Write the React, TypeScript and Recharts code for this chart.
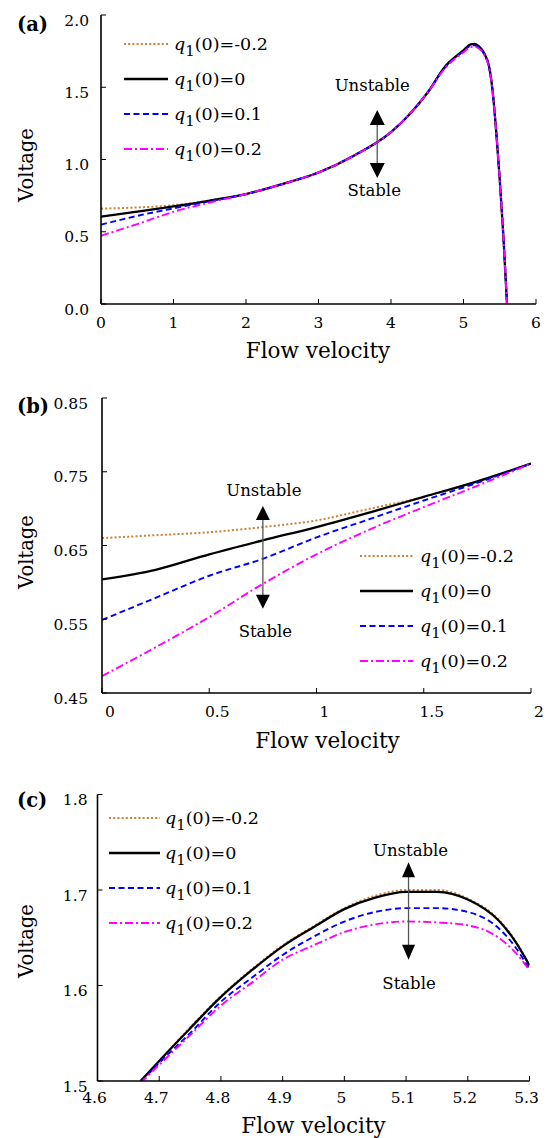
import React from "react";
import { LineChart, Line, XAxis, YAxis, Legend, ReferenceLine } from "recharts";

const FONT = "'DejaVu Serif', serif";

// legend / series setup, order = legend order
const seriesKeys = ["m02", "q0", "q01", "q02"];
const seriesLabels = ["-0.2", "0", "0.1", "0.2"];
const seriesColors = ["#CC8033", "#000000", "#0000FF", "#FF00FF"];
const seriesDash = ["2 2.2", "", "6 3.5", "8 3 2 3"];
const seriesWidth = [2, 2.3, 1.9, 1.9];

// (a) full range
const aVelocity = [0, 0.5, 1, 1.5, 2, 2.5, 3, 3.5, 4, 4.25, 4.5, 4.75, 5, 5.1, 5.15, 5.2, 5.3, 5.35, 5.4, 5.45, 5.5, 5.55, 5.6];
const aQm02 = [0.66, 0.668, 0.684, 0.716, 0.761, 0.83, 0.91, 1.03, 1.19, 1.31, 1.46, 1.645, 1.756, 1.798, 1.801, 1.789, 1.72, 1.65, 1.48, 1.2, 0.86, 0.47, 0];
const aQ0 = [0.604, 0.639, 0.675, 0.716, 0.761, 0.83, 0.91, 1.03, 1.19, 1.31, 1.46, 1.645, 1.755, 1.797, 1.8, 1.788, 1.72, 1.65, 1.48, 1.2, 0.86, 0.47, 0];
const aQ01 = [0.549, 0.61, 0.662, 0.711, 0.761, 0.83, 0.91, 1.03, 1.19, 1.31, 1.46, 1.64, 1.75, 1.787, 1.79, 1.78, 1.715, 1.645, 1.48, 1.2, 0.86, 0.47, 0];
const aQ02 = [0.473, 0.553, 0.638, 0.702, 0.761, 0.83, 0.91, 1.03, 1.19, 1.31, 1.46, 1.635, 1.742, 1.778, 1.78, 1.772, 1.71, 1.64, 1.48, 1.2, 0.86, 0.47, 0];
const aXTicks = [0, 1, 2, 3, 4, 5, 6];
const aXLabels = ["0", "1", "2", "3", "4", "5", "6"];
const aYTicks = [0, 0.5, 1, 1.5, 2];
const aYLabels = ["0.0", "0.5", "1.0", "1.5", "2.0"];

// (b) low speed zoom
const bVelocity = [0, 0.25, 0.5, 0.75, 1, 1.25, 1.5, 1.75, 2];
const bQm02 = [0.66, 0.664, 0.668, 0.675, 0.684, 0.7, 0.716, 0.737, 0.761];
const bQ0 = [0.604, 0.617, 0.638, 0.657, 0.675, 0.695, 0.716, 0.737, 0.761];
const bQ01 = [0.549, 0.579, 0.609, 0.632, 0.661, 0.686, 0.711, 0.735, 0.761];
const bQ02 = [0.473, 0.512, 0.553, 0.598, 0.638, 0.672, 0.702, 0.731, 0.761];
const bXTicks = [0, 0.5, 1, 1.5, 2];
const bXLabels = ["0", "0.5", "1", "1.5", "2"];
const bYTicks = [0.45, 0.55, 0.65, 0.75, 0.85];
const bYLabels = ["0.45", "0.55", "0.65", "0.75", "0.85"];

// (c) peak zoom
const cVelocity = [4.67, 4.7, 4.75, 4.8, 4.85, 4.9, 4.95, 5.0, 5.05, 5.1, 5.15, 5.2, 5.25, 5.275, 5.3];
const cQm02 = [1.5, 1.521, 1.556, 1.589, 1.617, 1.642, 1.662, 1.681, 1.694, 1.7, 1.7, 1.691, 1.669, 1.649, 1.621];
const cQ0 = [1.5, 1.521, 1.555, 1.588, 1.616, 1.641, 1.661, 1.68, 1.692, 1.698, 1.698, 1.69, 1.668, 1.648, 1.621];
const cQ01 = [1.499, 1.519, 1.55, 1.583, 1.608, 1.632, 1.651, 1.667, 1.677, 1.681, 1.681, 1.677, 1.66, 1.642, 1.617];
const cQ02 = [1.498, 1.517, 1.548, 1.579, 1.603, 1.627, 1.642, 1.656, 1.664, 1.667, 1.666, 1.663, 1.65, 1.636, 1.616];
const cXTicks = [4.6, 4.7, 4.8, 4.9, 5, 5.1, 5.2, 5.3];
const cXLabels = ["4.6", "4.7", "4.8", "4.9", "5", "5.1", "5.2", "5.3"];
const cYTicks = [1.5, 1.6, 1.7, 1.8];
const cYLabels = ["1.5", "1.6", "1.7", "1.8"];

const panels = [
  {
    letter: "(a)", x: aVelocity, series: [aQm02, aQ0, aQ01, aQ02],
    xDomain: [0, 6], xTicks: aXTicks, xLabels: aXLabels,
    yDomain: [0, 2], yTicks: aYTicks, yLabels: aYLabels,
    arrow: { x: 3.81, top: 1.343, bottom: 0.872 },
    layout: {
      top: 0, height: 380, left: 101, right: 536, fTop: 15, fBottom: 304,
      xLabelDx: 0, yLabelGap: 12, letterY: 31, titleX: 318, titleY: 358, vTitleY: 165,
      legendLeft: 124, legendTop: 26.5, sample: 44, sampleGap: 6,
      upDy: -19, downDy: 18, upDx: -5, downDx: -3, headW: 15, headH: 15,
    },
  },
  {
    letter: "(b)", x: bVelocity, series: [bQm02, bQ0, bQ01, bQ02],
    xDomain: [0, 2], xTicks: bXTicks, xLabels: bXLabels,
    yDomain: [0.45, 0.85], yTicks: bYTicks, yLabels: bYLabels,
    arrow: { x: 0.75, top: 0.7036, bottom: 0.5644 },
    layout: {
      top: 380, height: 380, left: 102, right: 531, fTop: 398, fBottom: 693,
      xLabelDx: 8, yLabelGap: 14, letterY: 413, titleX: 327.5, titleY: 748, vTitleY: 552,
      legendLeft: 360, legendTop: 158.5, sample: 53, sampleGap: 7,
      upDy: -10, downDy: 28, upDx: 1, downDx: 2.5, headW: 14, headH: 14,
    },
  },
  {
    letter: "(c)", x: cVelocity, series: [cQm02, cQ0, cQ01, cQ02],
    xDomain: [4.6, 5.3], xTicks: cXTicks, xLabels: cXLabels,
    yDomain: [1.5, 1.8], yTicks: cYTicks, yLabels: cYLabels,
    arrow: { x: 5.104, top: 1.729, bottom: 1.627 },
    layout: {
      top: 760, height: 378, left: 97.5, right: 529.5, fTop: 794.5, fBottom: 1081,
      xLabelDx: -3, yLabelGap: 10, letterY: 807, titleX: 313.5, titleY: 1133, vTitleY: 941,
      legendLeft: 109, legendTop: 40.5, sample: 51, sampleGap: 5,
      upDy: -6, downDy: 29, upDx: 2, downDx: 0.5, headW: 13, headH: 15,
    },
  },
];

const TICK = 5;

const bottomTick = (labels: string[], dx: number, dy: number) => (p: any) => (
  <g>
    <line x1={p.x} y1={p.y} x2={p.x} y2={p.y - TICK} stroke="#000" strokeWidth={1} />
    <text x={p.x + dx} y={p.y + dy} textAnchor="middle" fontFamily={FONT} fontSize={15.5} fill="#000">
      {labels[p.index]}
    </text>
  </g>
);

const leftTick = (labels: string[], gap: number) => (p: any) => (
  <g>
    <line x1={p.x} y1={p.y} x2={p.x + TICK} y2={p.y} stroke="#000" strokeWidth={1} />
    <text x={p.x - gap} y={p.y + 10.5} textAnchor="end" fontFamily={FONT} fontSize={15.5} fill="#000">
      {labels[p.index]}
    </text>
  </g>
);

const topTick = (p: any) => (
  <line x1={p.x} y1={p.y} x2={p.x} y2={p.y + TICK} stroke="#000" strokeWidth={1} />
);

const rightTick = (p: any) => (
  <line x1={p.x} y1={p.y} x2={p.x - TICK} y2={p.y} stroke="#000" strokeWidth={1} />
);

const arrowShape = (L: any) => (p: any) => {
  const x = p.x1;
  const yt = Math.min(p.y1, p.y2);
  const yb = Math.max(p.y1, p.y2);
  const hw = L.headW / 2;
  return (
    <g>
      <line x1={x} y1={yt + L.headH - 1} x2={x} y2={yb - L.headH + 1} stroke="#555" strokeWidth={1.3} />
      <polygon points={`${x},${yt} ${x - hw},${yt + L.headH} ${x + hw},${yt + L.headH}`} fill="#000" />
      <polygon points={`${x},${yb} ${x - hw},${yb - L.headH} ${x + hw},${yb - L.headH}`} fill="#000" />
      <text x={x + L.upDx} y={yt + L.upDy} textAnchor="middle" fontFamily={FONT} fontSize={16.5} fill="#000">
        Unstable
      </text>
      <text x={x + L.downDx} y={yb + L.downDy} textAnchor="middle" fontFamily={FONT} fontSize={16.5} fill="#000">
        Stable
      </text>
    </g>
  );
};

const legendContent = (L: any) => () => (
  <div style={{ fontFamily: FONT, fontSize: 17.5, color: "#000" }}>
    {seriesLabels.map((lab, i) => (
      <div key={lab} style={{ display: "flex", alignItems: "center", height: 35 }}>
        <svg width={L.sample} height={6} style={{ display: "block" }}>
          <line
            x1={0} y1={3} x2={L.sample} y2={3}
            stroke={seriesColors[i]}
            strokeWidth={seriesWidth[i]}
            strokeDasharray={seriesDash[i] || undefined}
          />
        </svg>
        <span style={{ marginLeft: L.sampleGap, whiteSpace: "nowrap" }}>
          <i>q</i>
          <span style={{ fontSize: "0.85em", position: "relative", top: "0.4em" }}>1</span>
          (0)={lab}
        </span>
      </div>
    ))}
  </div>
);

const Panel = ({ cfg }: { cfg: any }) => {
  const L = cfg.layout;
  const rows = cfg.x.map((v: number, i: number) => {
    const r: any = { v };
    seriesKeys.forEach((k, s) => (r[k] = cfg.series[s][i]));
    return r;
  });
  const frame = { stroke: "#000", strokeWidth: 1.6 };
  return (
    <div style={{ position: "absolute", left: 0, top: L.top, width: 549, height: L.height }}>
      <LineChart
        width={549}
        height={L.height}
        data={rows}
        margin={{ top: L.fTop - L.top, right: 549 - L.right, left: 0, bottom: 0 }}
      >
        <XAxis
          dataKey="v" type="number" domain={cfg.xDomain} ticks={cfg.xTicks} interval={0}
          allowDataOverflow height={L.top + L.height - L.fBottom}
          tickSize={0} tickMargin={0} tickLine={false} axisLine={frame}
          tick={bottomTick(cfg.xLabels, L.xLabelDx, L.fBottom > 1000 ? 21.5 : 23.5)}
        />
        <XAxis
          xAxisId="top" orientation="top" dataKey="v" type="number" domain={cfg.xDomain}
          ticks={cfg.xTicks} interval={0} allowDataOverflow height={0}
          tickSize={0} tickMargin={0} tickLine={false} axisLine={frame} tick={topTick}
        />
        <YAxis
          type="number" domain={cfg.yDomain} ticks={cfg.yTicks} interval={0}
          allowDataOverflow width={L.left}
          tickSize={0} tickMargin={0} tickLine={false} axisLine={frame}
          tick={leftTick(cfg.yLabels, L.yLabelGap)}
        />
        <YAxis
          yAxisId="right" orientation="right" type="number" domain={cfg.yDomain}
          ticks={cfg.yTicks} interval={0} allowDataOverflow width={0}
          tickSize={0} tickMargin={0} tickLine={false} axisLine={frame} tick={rightTick}
        />
        {seriesKeys.map((k, i) => (
          <Line
            key={k}
            dataKey={k}
            type="monotone"
            stroke={seriesColors[i]}
            strokeWidth={seriesWidth[i]}
            strokeDasharray={seriesDash[i] || undefined}
            dot={false}
            activeDot={false}
            isAnimationActive={false}
          />
        ))}
        <ReferenceLine
          segment={[
            { x: cfg.arrow.x, y: cfg.arrow.top },
            { x: cfg.arrow.x, y: cfg.arrow.bottom },
          ]}
          shape={arrowShape(L)}
        />
        <Legend
          layout="vertical"
          align="center"
          verticalAlign="middle"
          content={legendContent(L)}
          wrapperStyle={{ position: "absolute", left: L.legendLeft, top: L.legendTop, width: "auto", height: "auto" }}
        />
      </LineChart>
    </div>
  );
};

export default function App() {
  return (
    <div style={{ position: "absolute", left: 0, top: 0, width: 549, height: 1138, background: "#fff" }}>
      {panels.map((p) => (
        <Panel key={p.letter} cfg={p} />
      ))}
      <svg
        width={549}
        height={1138}
        style={{ position: "absolute", left: 0, top: 0, pointerEvents: "none" }}
      >
        {panels.map((p) => {
          const L = p.layout;
          return (
            <g key={p.letter} fontFamily={FONT} fill="#000">
              <text x={17} y={L.letterY} fontSize={19.5} fontWeight="bold">
                {p.letter}
              </text>
              <text x={L.titleX} y={L.titleY} fontSize={21.5} textAnchor="middle">
                Flow velocity
              </text>
              <text
                x={0}
                y={0}
                fontSize={19.5}
                textAnchor="middle"
                transform={`translate(33, ${L.vTitleY}) rotate(-90)`}
              >
                Voltage
              </text>
            </g>
          );
        })}
      </svg>
    </div>
  );
}
